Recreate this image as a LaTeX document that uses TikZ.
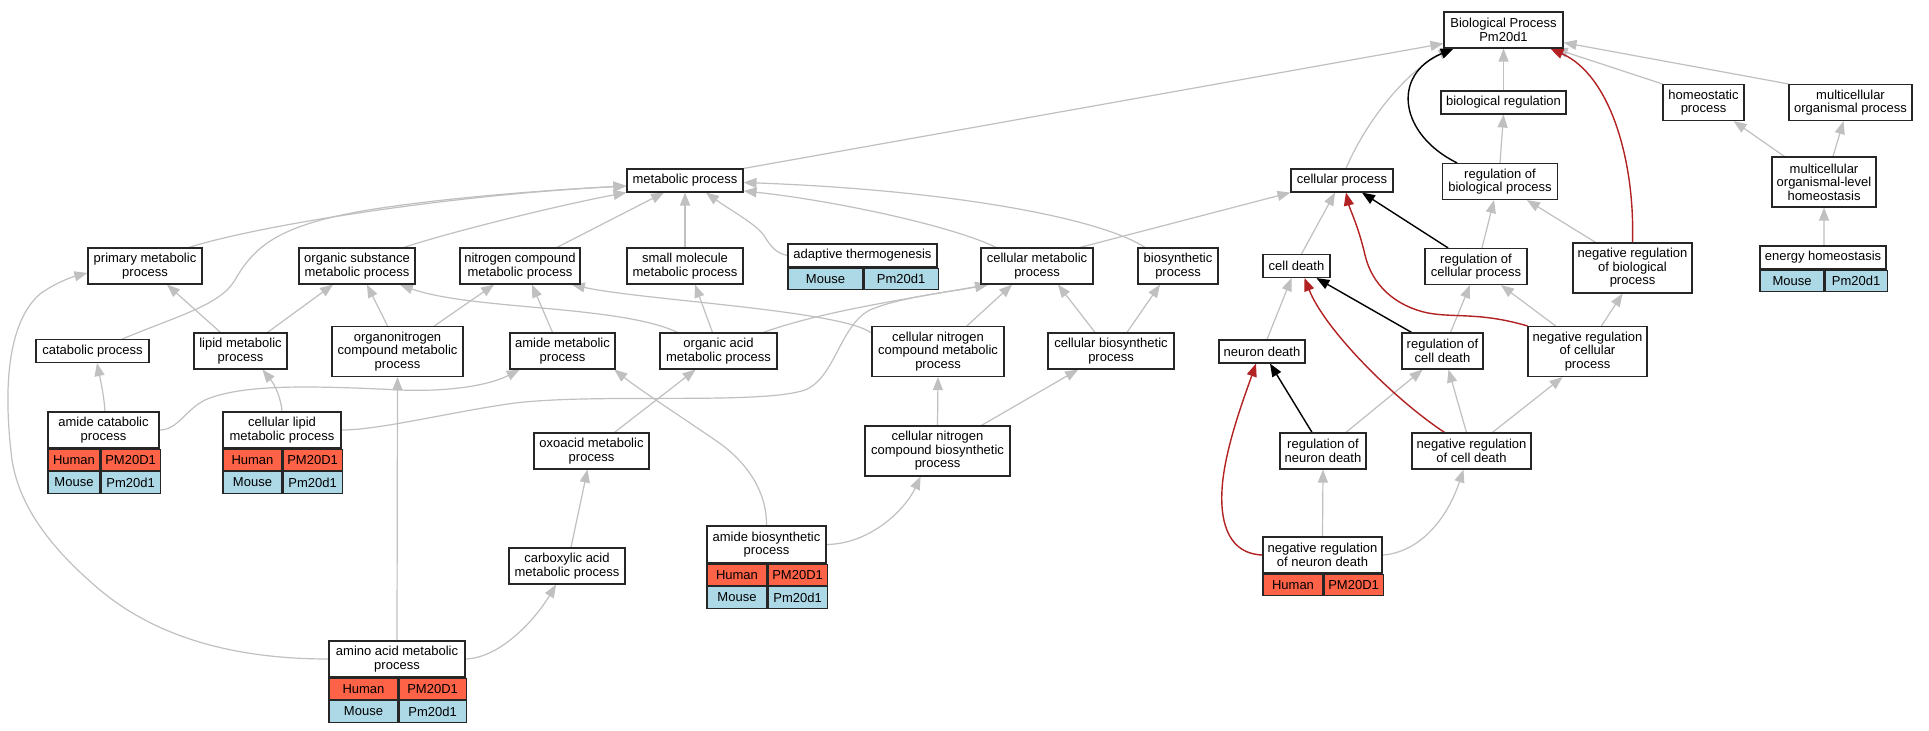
\documentclass[tikz,border=0pt]{standalone}
\usepackage{fontspec}
\newfontfamily\gofam{Liberation Sans}
\usetikzlibrary{arrows.meta,backgrounds}
\definecolor{edgegray}{HTML}{C0C0C0}
\definecolor{firebrick}{HTML}{B22222}
\definecolor{humanc}{HTML}{FF6347}
\definecolor{mousec}{HTML}{ADD8E6}
\newcommand\gotext{\gofam\fontsize{13bp}{13.5bp}\selectfont}
\tikzset{
 box/.style={draw=black!85, line width=1.1bp, fill=white, inner sep=0pt, align=center, font=\gotext, text=black},
 hcell/.style={box, fill=humanc, minimum height=21.5bp},
 mcell/.style={box, fill=mousec, minimum height=21.5bp},
 ge/.style={draw=edgegray, line width=1.2bp, -{Triangle[length=13bp,width=10bp]}},
 be/.style={draw=black, line width=1.4bp, -{Triangle[length=13bp,width=10bp]}},
 re/.style={draw=firebrick, line width=1.4bp, -{Triangle[length=13bp,width=10bp]}},
}
\begin{document}
\begin{tikzpicture}[x=1bp,y=-1bp]
\useasboundingbox (0,0) rectangle (1929,731);
% right part
\node[box,minimum width=119bp,minimum height=36bp] (bp) at (1503.5,30) {Biological Process\\Pm20d1};
\node[box,minimum width=125bp,minimum height=23bp] (bioreg) at (1503.5,102.5) {biological regulation};
\node[box,minimum width=115bp,minimum height=36bp] (regbio) at (1500,181.5) {regulation of\\biological process};
\node[box,minimum width=81bp,minimum height=36bp] (homeo) at (1703.5,102.5) {homeostatic\\process};
\node[box,minimum width=123bp,minimum height=36bp] (multiorg) at (1850.5,102.5) {multicellular\\organismal process};
\node[box,minimum width=104bp,minimum height=50bp] (multihomeo) at (1824,182) {multicellular\\organismal-level\\homeostasis};
\node[box,minimum width=126bp,minimum height=23bp] (energy) at (1823,257.5) {energy homeostasis};
\node[mcell,minimum width=64bp,anchor=north west] (energy-m1) at (energy.south west) {Mouse};
\node[mcell,minimum width=62bp,anchor=north west] (energy-m2) at (energy-m1.north east) {Pm20d1};
\node[box,minimum width=119bp,minimum height=50bp] (negregbio) at (1632.5,268) {negative regulation\\of biological\\process};
\node[box,minimum width=102bp,minimum height=36bp] (regcell) at (1476,266.5) {regulation of\\cellular process};
\node[box,minimum width=102bp,minimum height=23bp] (cellproc) at (1342,180.5) {cellular process};
\node[box,minimum width=67bp,minimum height=23bp] (celldeath) at (1296.5,266) {cell death};
\node[box,minimum width=112bp,minimum height=36bp] (cellmet) at (1037,266) {cellular metabolic\\process};
\node[box,minimum width=80bp,minimum height=36bp] (biosyn) at (1178,266) {biosynthetic\\process};
\node[box,minimum width=126bp,minimum height=36bp] (cellbiosyn) at (1111,351) {cellular biosynthetic\\process};
\node[box,minimum width=86bp,minimum height=23bp] (neurondeath) at (1262,351.5) {neuron death};
\node[box,minimum width=81bp,minimum height=36bp] (regcelldeath) at (1442.5,351) {regulation of\\cell death};
\node[box,minimum width=86bp,minimum height=36bp] (regneuron) at (1323,451) {regulation of\\neuron death};
\node[box,minimum width=119bp,minimum height=36bp] (negregcelldeath) at (1471.5,451) {negative regulation\\of cell death};
\node[box,minimum width=119bp,minimum height=36bp] (negregneuron) at (1322.5,555) {negative regulation\\of neuron death};
\node[hcell,minimum width=60bp,anchor=north west] (negregneuron-h1) at (negregneuron.south west) {Human};
\node[hcell,minimum width=59bp,anchor=north west] (negregneuron-h2) at (negregneuron-h1.north east) {PM20D1};
\node[box,minimum width=119bp,minimum height=50bp] (negregcell) at (1587.5,351.5) {negative regulation\\of cellular\\process};
% left part
\node[box,minimum width=116bp,minimum height=23bp] (metproc) at (685,180.5) {metabolic process};
\node[box,minimum width=114bp,minimum height=36bp] (primary) at (145,266) {primary metabolic\\process};
\node[box,minimum width=116bp,minimum height=36bp] (orgsub) at (357,266) {organic substance\\metabolic process};
\node[box,minimum width=120bp,minimum height=36bp] (nitro) at (520,266) {nitrogen compound\\metabolic process};
\node[box,minimum width=116bp,minimum height=36bp] (smallmol) at (685,266) {small molecule\\metabolic process};
\node[box,minimum width=149bp,minimum height=23bp] (adapt) at (862.5,255.5) {adaptive thermogenesis};
\node[mcell,minimum width=75bp,anchor=north west] (adapt-m1) at (adapt.south west) {Mouse};
\node[mcell,minimum width=74bp,anchor=north west] (adapt-m2) at (adapt-m1.north east) {Pm20d1};
\node[box,minimum width=113bp,minimum height=23bp] (catab) at (92.5,351) {catabolic process};
\node[box,minimum width=93bp,minimum height=36bp] (lipid) at (240.5,351) {lipid metabolic\\process};
\node[box,minimum width=131bp,minimum height=50bp] (organon) at (397.5,351.5) {organonitrogen\\compound metabolic\\process};
\node[box,minimum width=105bp,minimum height=36bp] (amidemet) at (562.5,351) {amide metabolic\\process};
\node[box,minimum width=117bp,minimum height=36bp] (orgacid) at (718.5,351) {organic acid\\metabolic process};
\node[box,minimum width=132bp,minimum height=50bp] (cncmet) at (938,351.5) {cellular nitrogen\\compound metabolic\\process};
\node[box,minimum width=111bp,minimum height=36bp] (amidecat) at (103.5,430) {amide catabolic\\process};
\node[hcell,minimum width=52bp,anchor=north west] (amidecat-h1) at (amidecat.south west) {Human};
\node[hcell,minimum width=59bp,anchor=north west] (amidecat-h2) at (amidecat-h1.north east) {PM20D1};
\node[mcell,minimum width=52bp,anchor=north west] (amidecat-m1) at (amidecat-h1.south west) {Mouse};
\node[mcell,minimum width=59bp,anchor=north west] (amidecat-m2) at (amidecat-m1.north east) {Pm20d1};
\node[box,minimum width=118bp,minimum height=36bp] (celllipid) at (282,430) {cellular lipid\\metabolic process};
\node[hcell,minimum width=59bp,anchor=north west] (celllipid-h1) at (celllipid.south west) {Human};
\node[hcell,minimum width=59bp,anchor=north west] (celllipid-h2) at (celllipid-h1.north east) {PM20D1};
\node[mcell,minimum width=59bp,anchor=north west] (celllipid-m1) at (celllipid-h1.south west) {Mouse};
\node[mcell,minimum width=59bp,anchor=north west] (celllipid-m2) at (celllipid-m1.north east) {Pm20d1};
\node[box,minimum width=115bp,minimum height=36bp] (oxo) at (591.5,451) {oxoacid metabolic\\process};
\node[box,minimum width=145bp,minimum height=50bp] (cncbio) at (937.5,451) {cellular nitrogen\\compound biosynthetic\\process};
\node[box,minimum width=116bp,minimum height=36bp] (carbox) at (567,566) {carboxylic acid\\metabolic process};
\node[box,minimum width=119bp,minimum height=37bp] (amidebio) at (766.5,544.5) {amide biosynthetic\\process};
\node[hcell,minimum width=60bp,anchor=north west] (amidebio-h1) at (amidebio.south west) {Human};
\node[hcell,minimum width=59bp,anchor=north west] (amidebio-h2) at (amidebio-h1.north east) {PM20D1};
\node[mcell,minimum width=60bp,anchor=north west] (amidebio-m1) at (amidebio-h1.south west) {Mouse};
\node[mcell,minimum width=59bp,anchor=north west] (amidebio-m2) at (amidebio-m1.north east) {Pm20d1};
\node[box,minimum width=136bp,minimum height=36bp] (aminoacid) at (397,659) {amino acid metabolic\\process};
\node[hcell,minimum width=69bp,anchor=north west] (aminoacid-h1) at (aminoacid.south west) {Human};
\node[hcell,minimum width=67bp,anchor=north west] (aminoacid-h2) at (aminoacid-h1.north east) {PM20D1};
\node[mcell,minimum width=69bp,anchor=north west] (aminoacid-m1) at (aminoacid-h1.south west) {Mouse};
\node[mcell,minimum width=67bp,anchor=north west] (aminoacid-m2) at (aminoacid-m1.north east) {Pm20d1};

\begin{pgfonlayer}{background}
\fill[white] (0,0) rectangle (1929,731);
% gray edges, right part
\draw[ge] (metproc.north east) -- ([yshift=5]bp.south west);
\draw[ge] ([xshift=4]cellproc.north) .. controls (1362,130) and (1400,75) .. ([xshift=-52]bp.south);
\draw[ge] (bioreg.north) -- (bp.south);
\draw[ge] (homeo.north west) -- ([xshift=-9]bp.south east);
\draw[ge] (multiorg.north west) -- ([yshift=6]bp.south east);
\draw[ge] (regbio.north) -- (bioreg.south);
\draw[ge] ([xshift=13]multihomeo.north west) -- ([xshift=-11]homeo.south east);
\draw[ge] ([xshift=9]multihomeo.north) -- ([xshift=-7]multiorg.south);
\draw[ge] ([xshift=1]energy.north) -- (multihomeo.south);
\draw[ge] ([xshift=6]regcell.north) -- ([xshift=-6]regbio.south);
\draw[ge] ([xshift=-37]negregbio.north) -- ([xshift=27]regbio.south);
\draw[ge] ([xshift=14]negregcell.north) -- ([xshift=-10]negregbio.south);
\draw[ge] ([xshift=-32]negregcell.north) -- ([xshift=25]regcell.south);
\draw[ge] ([xshift=43]cellmet.north) -- (cellproc.south west);
\draw[ge] ([xshift=5]celldeath.north) -- ([xshift=-7]cellproc.south);
\draw[ge] ([xshift=5]neurondeath.north) -- ([xshift=-5]celldeath.south);
\draw[ge] ([xshift=23]regneuron.north) -- ([xshift=-20]regcelldeath.south);
\draw[ge] ([xshift=-5]negregcelldeath.north) -- ([xshift=6]regcelldeath.south);
\draw[ge] ([xshift=21]negregcelldeath.north) -- ([xshift=-25]negregcell.south);
\draw[ge] ([xshift=8]regcelldeath.north) -- ([xshift=-6]regcell.south);
\draw[ge] (negregneuron.north) -- (regneuron.south);
\draw[ge] (negregneuron.east) .. controls (1415,553) and (1445,525) .. ([xshift=-8]negregcelldeath.south);
% gray edges, left part
\draw[ge] ([xshift=44]primary.north) .. controls (260,225) and (450,195) .. ([yshift=-5.5]metproc.west);
\draw[ge] ([xshift=30]catab.north) .. controls (180,315) and (220,305) .. (235,280) .. controls (255,245) and (280,225) .. (368,210) .. controls (450,197) and (550,190) .. ([yshift=-5.5]metproc.west);
\draw[ge] ([xshift=47]orgsub.north) .. controls (450,232) and (560,205) .. (metproc.south west);
\draw[ge] ([xshift=37]nitro.north) -- ([xshift=-21]metproc.south);
\draw[ge] (smallmol.north) -- (metproc.south);
\draw[ge] (adapt.west) .. controls (775,253) and (770,245) .. (765,237) .. controls (758,225) and (730,210) .. ([xshift=21]metproc.south);
\draw[ge] ([xshift=-41]cellmet.north) .. controls (950,225) and (830,200) .. ([yshift=-10.5]metproc.east);
\draw[ge] ([xshift=-33]biosyn.north) .. controls (1100,218) and (950,190) .. ([yshift=-2]metproc.east);
\draw[ge] ([xshift=-20]lipid.north) -- ([xshift=22]primary.south);
\draw[ge] ([xshift=27]lipid.north) -- ([xshift=-24]orgsub.south);
\draw[ge] ([xshift=-10]organon.north) -- ([xshift=10]orgsub.south);
\draw[ge] ([xshift=37]organon.north) -- ([xshift=-26]nitro.south);
\draw[ge] ([xshift=-10]amidemet.north) -- ([xshift=12]nitro.south);
\draw[ge] ([xshift=-41]orgacid.north) .. controls (620,305) and (470,310) .. ([xshift=43]orgsub.south);
\draw[ge] ([xshift=-6]orgacid.north) -- ([xshift=10]smallmol.south);
\draw[ge] ([yshift=-7]cncmet.north west) .. controls (840,310) and (640,300) .. ([xshift=52]nitro.south);
\draw[ge] ([xshift=29]cncmet.north) -- ([xshift=-25]cellmet.south);
\draw[ge] ([xshift=-16]cellbiosyn.north) -- ([xshift=21]cellmet.south);
\draw[ge] ([xshift=16]cellbiosyn.north) -- ([xshift=-18]biosyn.south);
\draw[ge] ([xshift=45]orgacid.north) .. controls (820,312) and (900,300) .. ([xshift=-49]cellmet.south);
\draw[ge] (celllipid.east) .. controls (380,430) and (450,412) .. (515,403) .. controls (600,393) and (760,405) .. (805,390) .. controls (835,378) and (840,325) .. (870,310) .. controls (900,297) and (950,292) .. ([xshift=-49]cellmet.south);
\draw[ge] ([xshift=1.5]amidecat.north) .. controls (104,395) and (100,378) .. ([xshift=4.5]catab.south);
\draw[ge] (amidecat.east) .. controls (178,430) and (185,410) .. (205,400) .. controls (240,385) and (300,385) .. (400,390) .. controls (450,392) and (490,385) .. ([xshift=-43]amidemet.south);
\draw[ge] (celllipid.north) .. controls (281,398) and (275,385) .. ([xshift=22]lipid.south);
\draw[ge] ([xshift=23]oxo.north) -- ([xshift=-23]orgacid.south);
\draw[ge] (cncbio.north) -- (cncmet.south);
\draw[ge] ([xshift=44]cncbio.north) -- ([xshift=-33]cellbiosyn.south);
\draw[ge] ([xshift=4]carbox.north) -- ([xshift=-4]oxo.south);
\draw[ge] (aminoacid.east) .. controls (500,658) and (535,620) .. ([xshift=-11]carbox.south);
\draw[ge] (aminoacid.north) -- (organon.south);
\draw[ge] (aminoacid.west) .. controls (240,659) and (160,640) .. (100,590) .. controls (55,552) and (20,510) .. (12,460) .. controls (2,380) and (10,320) .. (40,294) .. controls (55,283) and (72,277) .. ([yshift=-7]primary.west);
\draw[ge] (amidebio.north) .. controls (767,490) and (745,460) .. (715,440) .. controls (680,416) and (640,390) .. ([xshift=52]amidemet.south);
\draw[ge] (amidebio.east) .. controls (870,544) and (905,510) .. ([xshift=-17]cncbio.south);
% black edges
\draw[be] ([xshift=-43]regbio.north) .. controls (1400,135) and (1390,75) .. ([xshift=-50]bp.south);
\draw[be] ([xshift=-28]regcell.north) -- ([xshift=20]cellproc.south);
\draw[be] ([xshift=-31]regcelldeath.north) -- ([xshift=20]celldeath.south);
\draw[be] ([xshift=-11]regneuron.north) -- ([xshift=8]neurondeath.south);
% red edges
\draw[re] (negregbio.north) .. controls (1635,160) and (1610,75) .. ([xshift=47]bp.south);
\draw[re] (negregcell.north west) .. controls (1480,312) and (1455,318) .. (1428,313) .. controls (1395,306) and (1372,285) .. (1365,255) .. controls (1358,225) and (1350,210) .. ([xshift=4]cellproc.south);
\draw[re] ([xshift=-27]negregcelldeath.north) .. controls (1395,400) and (1325,330) .. ([xshift=8]celldeath.south);
\draw[re] (negregneuron.west) .. controls (1230,554) and (1220,525) .. (1222,490) .. controls (1224,450) and (1245,395) .. ([xshift=-6]neurondeath.south);
\end{pgfonlayer}
\end{tikzpicture}
\end{document}
